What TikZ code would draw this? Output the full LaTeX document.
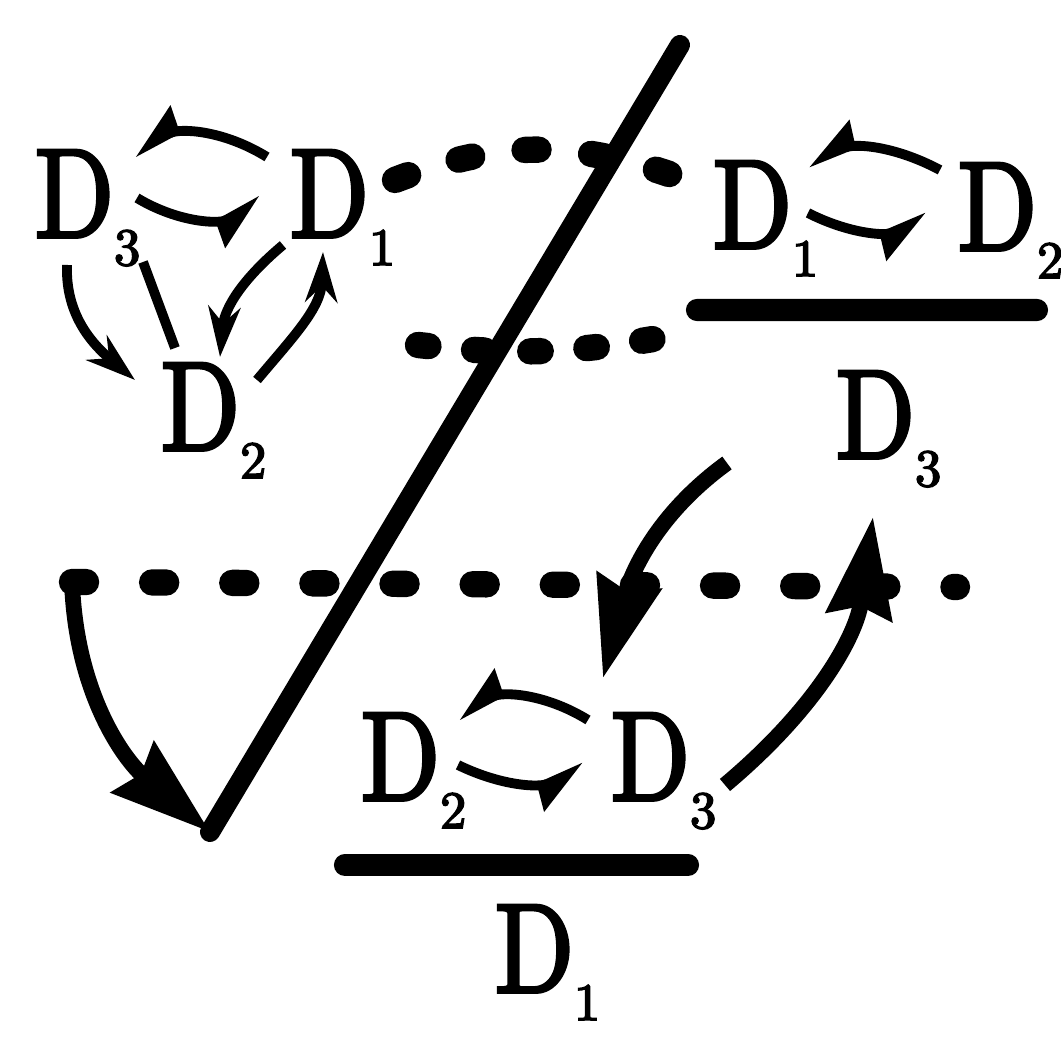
\documentclass[tikz,border=0pt]{standalone}
\usepackage{fontspec}
\usepackage{graphicx}
\usepackage{tikz}
\usetikzlibrary{arrows.meta}
\newfontfamily\dfont{lmroman10-regular.otf}[FakeBold=3]
\newcommand{\Dsub}[1]{\scalebox{0.82}[1]{D}\raisebox{-8pt}{\fontsize{15}{15}\selectfont #1}}
\tikzset{
  dlab/.style={anchor=base west, inner sep=0pt, font=\dfont\fontsize{36}{40}\selectfont},
  harp/.style={-{Stealth[harpoon, swap, length=4.5mm, width=4.6mm, inset=0.3mm]}, line width=2.8pt},
  sarr/.style={-{Stealth[length=5mm, width=3.2mm]}, line width=2.8pt},
  sline/.style={line width=2.8pt},
  bigarr/.style={-{Stealth[length=10mm, width=6.5mm, inset=1mm]}, line width=4.5pt},
  dsh/.style={line width=7.5pt, line cap=round, dash pattern=on 4pt off 15pt},
  fbar/.style={line width=6.3pt, line cap=round},
  slash/.style={line width=5.7pt, line cap=round},
}

\begin{document}
\begin{tikzpicture}
  \useasboundingbox (0,0) rectangle (10.61,10.42);
  \coordinate (vtop) at (6.80,9.97);
  \coordinate (vbot) at (2.10,2.10);
  \coordinate (dl) at (0.72,4.60);
  \coordinate (dr) at (9.57,4.55);
  \coordinate (gap) at (4.18,6.97);

  % the three D's
  \node[dlab] (l3) at (0.34,8.05) {\Dsub{3}};
  \node[dlab] (l1) at (2.89,8.05) {\Dsub{1}};
  \node[dlab] (l2) at (1.60,5.92) {\Dsub{2}};
  % top right fraction
  \node[dlab] (r1) at (7.12,7.94) {\Dsub{1}};
  \node[dlab] (r2) at (9.57,7.92) {\Dsub{2}};
  \node[dlab] (dr3) at (8.35,5.84) {\Dsub{3}};
  % bottom fraction
  \node[dlab] (b2) at (3.60,2.42) {\Dsub{2}};
  \node[dlab] (b3) at (6.10,2.42) {\Dsub{3}};
  \node[dlab] (db1) at (4.94,0.50) {\Dsub{1}};

  \draw[dsh] ([shift={(1.06,0.57)}]l1.base west) to[bend left=20] ([shift={(-0.40,0.73)}]r1.base west);
  \draw[dsh, dash pattern=on 3pt off 13pt] (gap) to[bend right=8] ([shift={(-0.47,-0.89)}]r1.base west);
  \draw[dsh, dash pattern=on 4pt off 18.8pt] (dl) -- (dr);
  \draw[slash] (vtop) -- (vbot);

  \draw[harp] ([shift={(-0.22,0.80)}]l1.base west) to[bend right=30] ([shift={(0.99,0.84)}]l3.base west);
  \draw[harp] ([shift={(1.03,0.39)}]l3.base west) to[bend right=30] ([shift={(-0.27,0.37)}]l1.base west);
  \draw[sarr] ([shift={(0.33,-0.28)}]l3.base west) to[out=-92,in=140] ([shift={(-0.25,0.70)}]l2.base west);
  \draw[sline] ([shift={(1.09,-0.25)}]l3.base west) -- ([shift={(0.15,1.02)}]l2.base west);
  \draw[sarr] ([shift={(-0.06,-0.08)}]l1.base west) to[out=-140,in=85] ([shift={(0.60,0.93)}]l2.base west);
  \draw[sarr] ([shift={(0.97,0.70)}]l2.base west) to[out=50,in=-92] ([shift={(0.34,-0.15)}]l1.base west);

  \draw[harp] ([shift={(-0.17,0.80)}]r2.base west) to[bend right=25] ([shift={(0.95,0.85)}]r1.base west);
  \draw[harp] ([shift={(0.96,0.35)}]r1.base west) to[bend right=25] ([shift={(-0.29,0.33)}]r2.base west);
  \draw[fbar] ([shift={(-0.15,-0.62)}]r1.base west) -- ([shift={(0.80,-0.60)}]r2.base west);

  \draw[harp] ([shift={(-0.22,0.80)}]b3.base west) to[bend right=30] ([shift={(0.97,0.84)}]b2.base west);
  \draw[harp] ([shift={(0.98,0.35)}]b2.base west) to[bend right=25] ([shift={(-0.25,0.33)}]b3.base west);
  \draw[fbar] ([shift={(-0.15,-0.65)}]b2.base west) -- ([shift={(0.78,-0.65)}]b3.base west);

  \draw[bigarr] (dl) to[out=-88,in=140] (vbot);
  \draw[bigarr] ([shift={(-1.08,-0.05)}]dr3.base west) to[out=-144,in=75] ([shift={(-0.07,1.22)}]b3.base west);
  \draw[bigarr] ([shift={(1.15,0.15)}]b3.base west) to[out=40,in=-98] ([shift={(0.38,-0.59)}]dr3.base west);
\end{tikzpicture}
\end{document}
